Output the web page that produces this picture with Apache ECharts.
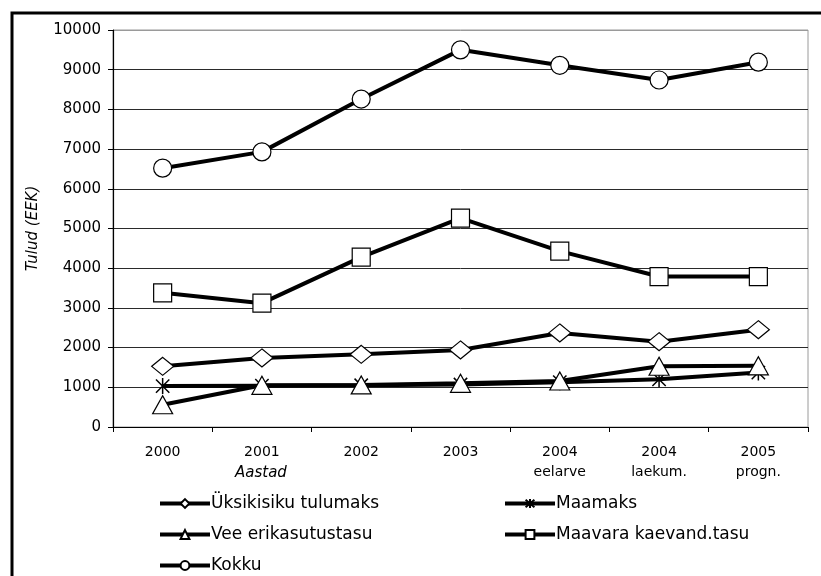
<!DOCTYPE html>
<html>
<head>
<meta charset="utf-8">
<script src="https://cdn.jsdelivr.net/npm/echarts@6/dist/echarts.min.js"></script>
<style>html,body{margin:0;padding:0;background:#fff}#c{width:821px;height:576px}</style>
</head>
<body>
<div id="c"></div>
<script>
const categories = ['2000', '2001', '2002', '2003', '2004\neelarve', '2004\nlaekum.', '2005\nprogn.'];
const uksikisiku = [1530, 1740, 1830, 1940, 2370, 2150, 2450];
const maamaks = [1030, 1040, 1050, 1070, 1130, 1200, 1370];
const vee = [560, 1050, 1060, 1100, 1160, 1530, 1540];
const maavara = [3380, 3120, 4280, 5260, 4430, 3790, 3790];
const kokku = [6520, 6930, 8260, 9500, 9110, 8740, 9190];
const seriesNames = ['Üksikisiku tulumaks', 'Maamaks', 'Vee erikasutustasu', 'Maavara kaevand.tasu', 'Kokku'];

const FONT = 'DejaVu Sans';
const asterisk = 'path://M0,0L10,10M10,0L0,10M5,-1L5,11';

function mk(name, data, symbol, size, z) {
  const isAst = symbol === asterisk;
  return {
    name: name, type: 'line', data: data, symbol: symbol, symbolSize: size,
    showSymbol: true, z: z, symbolKeepAspect: true,
    lineStyle: { color: '#000', width: 4 },
    itemStyle: isAst ? { color: '#000', borderColor: '#000', borderWidth: 1.5 }
                     : { color: '#fff', borderColor: '#000', borderWidth: 1.2 },
    emphasis: { disabled: true }
  };
}

const splitColors = [];
for (let i = 0; i < 11; i++) splitColors.push(i === 10 ? '#9a9a9a' : '#2a2a2a');

function leg(name, left, cy) {
  return {
    data: [name], left: left, top: cy - 10, padding: 0, itemGap: 0,
    itemWidth: 50, itemHeight: 11, selectedMode: false,
    lineStyle: { width: 4, color: '#000' },
    textStyle: { fontFamily: FONT, fontSize: 17, color: '#000', padding: [0, 0, 0, -4] }
  };
}

const chart = echarts.init(document.getElementById('c'), null, { renderer: 'canvas' });
chart.setOption({
  animation: false,
  backgroundColor: '#fff',
  grid: { left: 113, right: 13, top: 30, bottom: 149, show: true, borderColor: '#9a9a9a', borderWidth: 1 },
  xAxis: {
    type: 'category', data: categories, boundaryGap: true,
    axisLine: { lineStyle: { color: '#000', width: 1.2 } },
    axisTick: { show: true, length: 5, lineStyle: { color: '#000' }, alignWithLabel: false },
    axisLabel: { fontFamily: FONT, fontSize: 14, color: '#000', margin: 15, lineHeight: 20, interval: 0 },
    splitLine: { show: false }
  },
  yAxis: {
    type: 'value', min: 0, max: 10000, interval: 1000,
    name: 'Tulud (EEK)', nameLocation: 'middle', nameGap: 72, nameRotate: 90,
    nameTextStyle: { fontFamily: FONT, fontSize: 15, fontStyle: 'italic', color: '#000' },
    axisLine: { show: true, lineStyle: { color: '#000', width: 1.2 } },
    axisTick: { show: true, length: 5, lineStyle: { color: '#000' } },
    axisLabel: { fontFamily: FONT, fontSize: 15, color: '#000', margin: 12, formatter: function (v) { return String(v); } },
    splitLine: { show: true, lineStyle: { color: splitColors, width: 1 } }
  },
  legend: [
    leg(seriesNames[0], 158, 505),
    leg(seriesNames[1], 503, 505),
    leg(seriesNames[2], 158, 536),
    leg(seriesNames[3], 503, 536),
    leg(seriesNames[4], 158, 567)
  ],
  graphic: [
    { type: 'rect', z: -10, shape: { x: 12, y: 13, width: 900, height: 700 }, style: { fill: 'none', stroke: '#000', lineWidth: 3 } },
    { type: 'text', left: 262 - 27, top: 466, style: { text: 'Aastad', font: 'italic 15px "DejaVu Sans"', fill: '#000' } }
  ],
  series: [
    mk(seriesNames[0], uksikisiku, 'diamond', [22, 18], 2),
    mk(seriesNames[1], maamaks, asterisk, 16, 3),
    mk(seriesNames[2], vee, 'triangle', [20, 18], 4),
    mk(seriesNames[3], maavara, 'rect', 18, 5),
    mk(seriesNames[4], kokku, 'circle', 18, 6)
  ]
});
</script>
</body>
</html>
